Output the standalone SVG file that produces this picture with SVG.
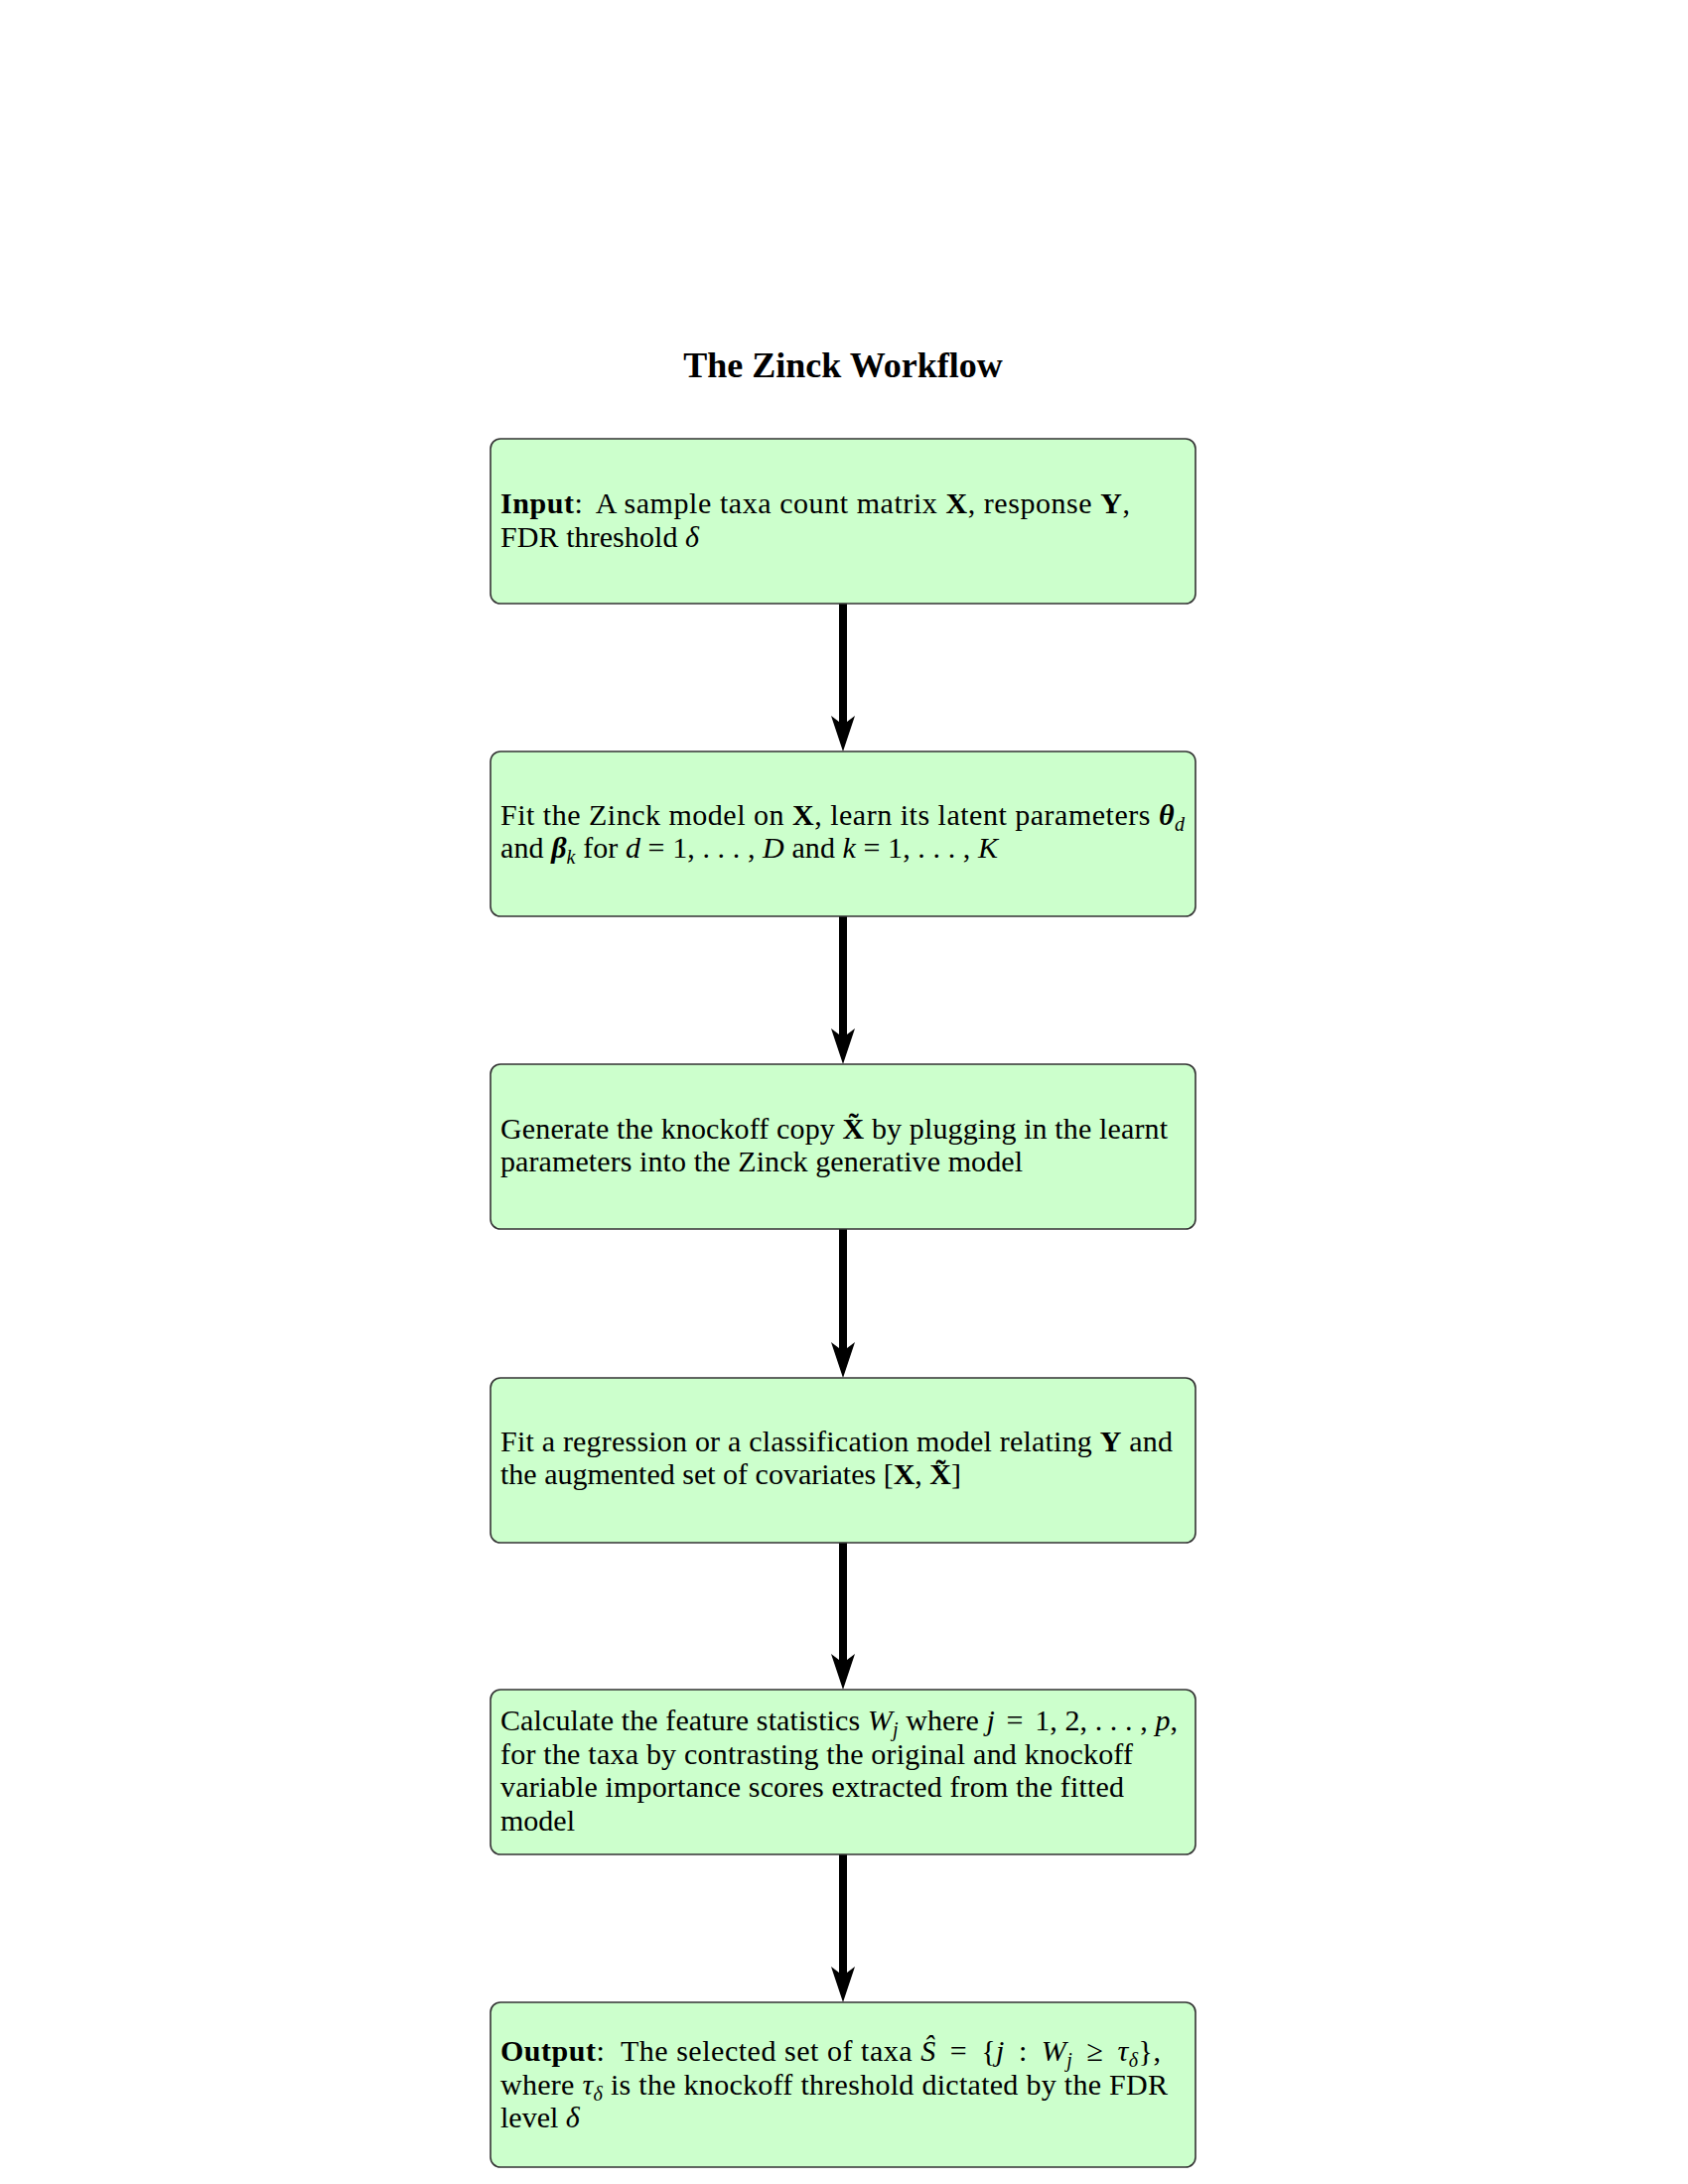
<svg xmlns="http://www.w3.org/2000/svg" width="1700" height="2200" viewBox="0 0 1700 2200">
<defs>
<style>
.box{fill:#ccffcc;stroke:#333;stroke-width:1.6}
text{font-family:"Liberation Serif","Times New Roman",serif;font-size:30px;fill:#000}
.title{font-size:36px;font-weight:bold}
.b{font-weight:bold}
.i{font-style:italic}
.bi{font-weight:bold;font-style:italic}
.s{font-size:20px;font-style:italic}
.shaft{stroke:#000;stroke-width:8;fill:none}
.head{fill:#000}
</style>
</defs>
<rect width="1700" height="2200" fill="#fff"/>
<text class="title" x="849" y="380" text-anchor="middle">The Zinck Workflow</text>

<g id="connectors">
<line class="shaft" x1="849" y1="608" x2="849" y2="732"/>
<path class="head" d="M849,757 L837,721 L849,730 L861,721 Z"/>
<line class="shaft" x1="849" y1="923" x2="849" y2="1047"/>
<path class="head" d="M849,1072 L837,1036 L849,1045 L861,1036 Z"/>
<line class="shaft" x1="849" y1="1238" x2="849" y2="1363"/>
<path class="head" d="M849,1388 L837,1352 L849,1361 L861,1352 Z"/>
<line class="shaft" x1="849" y1="1554" x2="849" y2="1677"/>
<path class="head" d="M849,1702 L837,1666 L849,1675 L861,1666 Z"/>
<line class="shaft" x1="849" y1="1868" x2="849" y2="1992"/>
<path class="head" d="M849,2017 L837,1981 L849,1990 L861,1981 Z"/>
</g>

<g id="input">
<rect class="box" x="494" y="442" width="710" height="166" rx="10"/>
<text x="504" y="517" textLength="634" lengthAdjust="spacing"><tspan class="b">Input</tspan>:<tspan dx="6"> A sample taxa count matrix </tspan><tspan class="b">X</tspan>, response <tspan class="b">Y</tspan>,</text>
<text x="504" y="550.7" textLength="200" lengthAdjust="spacing">FDR threshold <tspan class="i">δ</tspan></text>
</g>

<g id="fit-zinck">
<rect class="box" x="494" y="757" width="710" height="166" rx="10"/>
<text x="504" y="830.5" textLength="689" lengthAdjust="spacing">Fit the Zinck model on <tspan class="b">X</tspan>, learn its latent parameters <tspan class="bi">θ</tspan><tspan class="s" dy="6">d</tspan></text>
<text x="504" y="864.2" textLength="501" lengthAdjust="spacing">and <tspan class="bi">β</tspan><tspan class="s" dy="6">k</tspan><tspan dy="-6"> for </tspan><tspan class="i">d</tspan> = 1, . . . , <tspan class="i">D</tspan> and <tspan class="i">k</tspan> = 1, . . . , <tspan class="i">K</tspan></text>
</g>

<g id="generate-knockoff">
<rect class="box" x="494" y="1072" width="710" height="166" rx="10"/>
<text x="504" y="1146.5" textLength="672" lengthAdjust="spacing">Generate the knockoff copy <tspan class="b">X̃</tspan> by plugging in the learnt</text>
<text x="504" y="1180.2" textLength="526" lengthAdjust="spacing">parameters into the Zinck generative model</text>
</g>

<g id="fit-model">
<rect class="box" x="494" y="1388" width="710" height="166" rx="10"/>
<text x="504" y="1461.5" textLength="677" lengthAdjust="spacing">Fit a regression or a classification model relating <tspan class="b">Y</tspan> and</text>
<text x="504" y="1495.2" textLength="464" lengthAdjust="spacing">the augmented set of covariates [<tspan class="b">X</tspan>, <tspan class="b">X̃</tspan>]</text>
</g>

<g id="feature-stats">
<rect class="box" x="494" y="1702" width="710" height="166" rx="10"/>
<text x="504" y="1743" textLength="682" lengthAdjust="spacing">Calculate the feature statistics <tspan class="i">W</tspan><tspan class="s" dy="6">j</tspan><tspan dy="-6"> where </tspan><tspan class="i">j</tspan><tspan dx="4"> = </tspan><tspan dx="4">1, 2, . . . , </tspan><tspan class="i">p</tspan>,</text>
<text x="504" y="1776.7" textLength="637" lengthAdjust="spacing">for the taxa by contrasting the original and knockoff</text>
<text x="504" y="1810.4" textLength="628" lengthAdjust="spacing">variable importance scores extracted from the fitted</text>
<text x="504" y="1844.1">model</text>
</g>

<g id="output">
<rect class="box" x="494" y="2017" width="710" height="166" rx="10"/>
<text x="504" y="2076" textLength="665" lengthAdjust="spacing"><tspan class="b">Output</tspan>:<tspan dx="8"> The selected set of taxa </tspan><tspan class="i">Ŝ</tspan><tspan dx="6"> = </tspan><tspan dx="6">{</tspan><tspan class="i">j</tspan><tspan dx="6"> : </tspan><tspan class="i" dx="6">W</tspan><tspan class="s" dy="6">j</tspan><tspan dy="-6" dx="6"> ≥ </tspan><tspan class="i" dx="6">τ</tspan><tspan class="s" dy="6">δ</tspan><tspan dy="-6">},</tspan></text>
<text x="504" y="2109.7" textLength="672" lengthAdjust="spacing">where <tspan class="i">τ</tspan><tspan class="s" dy="6">δ</tspan><tspan dy="-6"> is the knockoff threshold dictated by the FDR</tspan></text>
<text x="504" y="2143.4">level <tspan class="i">δ</tspan></text>
</g>
</svg>
